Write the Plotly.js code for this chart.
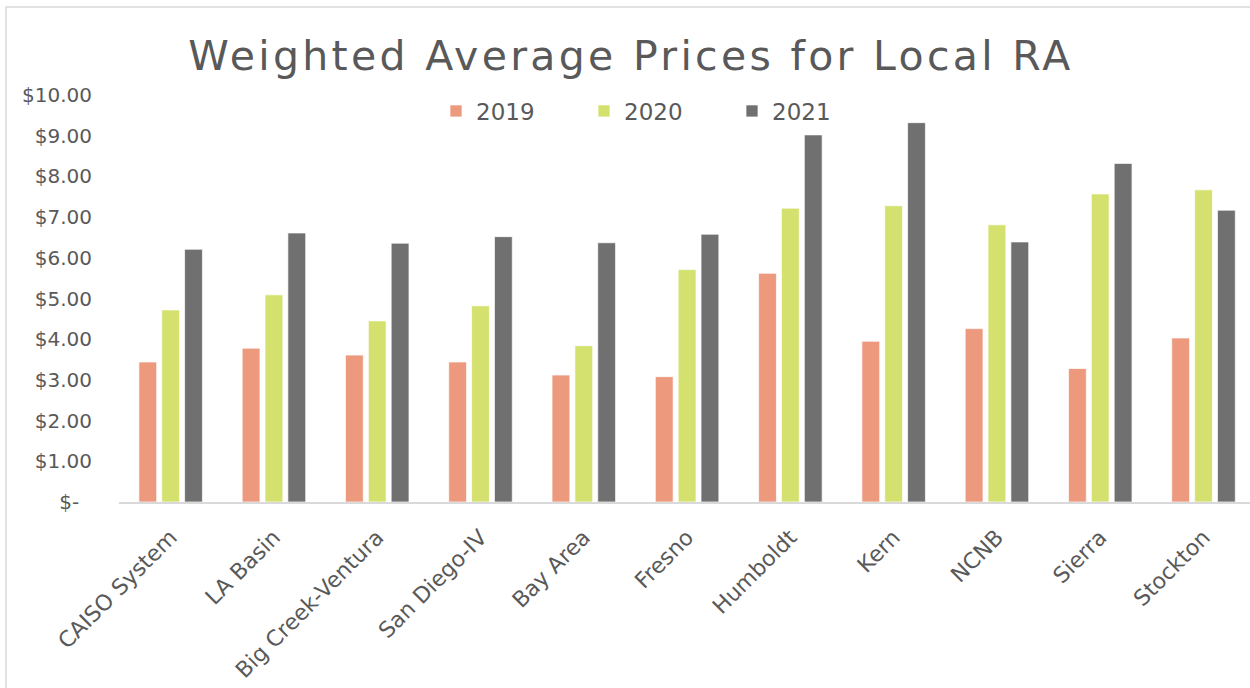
<!DOCTYPE html>
<html>
<head>
<meta charset="utf-8">
<script src="https://cdn.plot.ly/plotly-3.0.1.min.js"></script>
<style>
  html, body { margin: 0; padding: 0; background: #fff; overflow: hidden; }
  #chart { width: 1250px; height: 688px; }
  #chart .gtitle { letter-spacing: 3.3px; }
</style>
</head>
<body>
<div id="chart"></div>
<script>
const categories = ["CAISO System", "LA Basin", "Big Creek-Ventura", "San Diego-IV", "Bay Area",
  "Fresno", "Humboldt", "Kern", "NCNB", "Sierra", "Stockton"];
const seriesNames = ["2019", "2020", "2021"];
const v2019 = [3.44, 3.78, 3.61, 3.44, 3.12, 3.08, 5.62, 3.95, 4.26, 3.28, 4.03];
const v2020 = [4.72, 5.09, 4.45, 4.82, 3.84, 5.71, 7.22, 7.28, 6.81, 7.57, 7.67];
const v2021 = [6.21, 6.61, 6.36, 6.52, 6.37, 6.58, 9.02, 9.32, 6.39, 8.32, 7.17];
const tickVals = [0, 1, 2, 3, 4, 5, 6, 7, 8, 9, 10];
const tickText = ["$-\u00A0\u00A0", "$1.00", "$2.00", "$3.00", "$4.00", "$5.00", "$6.00", "$7.00", "$8.00", "$9.00", "$10.00"];

const colors = ["#EC997D", "#D4E16F", "#707070"];
const FONT = "'DejaVu Sans', sans-serif";
const TXT = "#595959";

const values = [v2019, v2020, v2021];
const traces = values.map((v, i) => ({
  type: "bar",
  name: seriesNames[i],
  x: categories,
  y: v,
  marker: { color: colors[i], line: { color: "rgba(255,255,255,0.7)", width: 1 } },
  hoverinfo: "x+y+name"
}));

const layout = {
  width: 1250,
  height: 688,
  margin: { l: 119, r: 0, t: 95, b: 186 },
  paper_bgcolor: "#fff",
  plot_bgcolor: "rgba(0,0,0,0)",
  font: { family: FONT, color: TXT, size: 20 },
  title: {
    text: "Weighted Average Prices for Local RA",
    font: { family: FONT, size: 41, color: TXT },
    x: 631 / 1250, xanchor: "center",
    y: 1 - 56 / 688, yanchor: "middle"
  },
  barmode: "group",
  bargap: 0.336,
  bargroupgap: 0.22,
  xaxis: {
    type: "category",
    range: [-0.5, 10.45],
    showline: true,
    linecolor: "#D9D9D9",
    linewidth: 1.5,
    showgrid: false,
    zeroline: false,
    ticks: "",
    tickangle: -45,
    ticklabelstandoff: 12,
    tickfont: { family: FONT, size: 22, color: TXT },
    fixedrange: true
  },
  yaxis: {
    range: [0, 10],
    tickvals: tickVals,
    ticktext: tickText,
    showline: false,
    showgrid: false,
    zeroline: false,
    ticks: "",
    ticklabelstandoff: 26,
    tickfont: { family: FONT, size: 20, color: TXT },
    fixedrange: true
  },
  legend: {
    orientation: "h",
    x: (436 - 119) / 1131, xanchor: "left",
    y: (502 - 111) / 407, yanchor: "middle",
    entrywidth: 103, entrywidthmode: "pixels",
    font: { family: FONT, size: 23, color: TXT },
    bgcolor: "rgba(0,0,0,0)",
    traceorder: "normal"
  },
  shapes: [{
    type: "rect", xref: "paper", yref: "paper",
    x0: (6 - 119) / 1131, x1: (1262 - 119) / 1131,
    y0: (502 - 700) / 407, y1: (502 - 7) / 407,
    line: { color: "#D9D9D9", width: 1.5 },
    fillcolor: "rgba(0,0,0,0)",
    layer: "below"
  }]
};

Plotly.newPlot("chart", traces, layout, { displayModeBar: false });
</script>
</body>
</html>
